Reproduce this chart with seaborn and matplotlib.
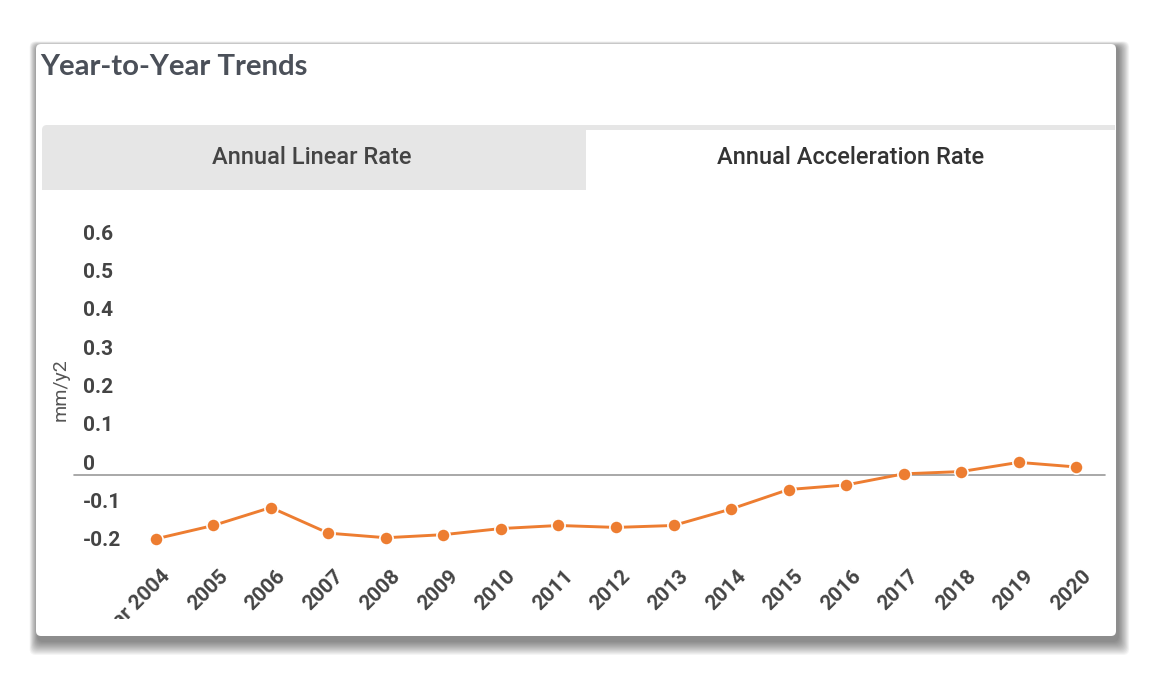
import numpy as np
import pandas as pd
import matplotlib
matplotlib.use('Agg')
import matplotlib.pyplot as plt
import matplotlib.transforms as mtransforms
from matplotlib.patches import FancyBboxPatch, Rectangle
import seaborn as sns

# data
years = [2004, 2005, 2006, 2007, 2008, 2009, 2010, 2011, 2012,
         2013, 2014, 2015, 2016, 2017, 2018, 2019, 2020]
year_labels = ['Year 2004'] + [str(y) for y in years[1:]]
accel_rate = [-0.167, -0.132, -0.085, -0.152, -0.164, -0.156, -0.140, -0.132, -0.137,
              -0.132, -0.089, -0.038, -0.026, 0.003, 0.009, 0.033, 0.021]
y_ticks = [-0.2, -0.1, 0, 0.1, 0.2, 0.3, 0.4, 0.5, 0.6]
y_tick_labels = ['-0.2', '-0.1', '0', '0.1', '0.2', '0.3', '0.4', '0.5', '0.6']
tab_names = ['Annual Linear Rate', 'Annual Acceleration Rate']
title = 'Year-to-Year Trends'
y_label = 'mm/y2'

df = pd.DataFrame({'year': years, 'rate': accel_rate})

sns.set_theme(style='white')
plt.rcParams['font.family'] = ['Roboto', 'DejaVu Sans']

W, H = 1152, 680
fig = plt.figure(figsize=(W / 100, H / 100), dpi=100)
fig.patch.set_facecolor('white')
inch = fig.dpi_scale_trans


def box(x0, y0, x1, y1, rounding=0.0, **kw):
    # pixel coords, origin top-left
    style = 'round,pad=0,rounding_size=%g' % rounding if rounding else 'square,pad=0'
    p = FancyBboxPatch((x0 / 100, (H - y1) / 100), (x1 - x0) / 100, (y1 - y0) / 100,
                       boxstyle=style, transform=inch, linewidth=0, **kw)
    fig.add_artist(p)
    return p


# card shadow
for i in range(14, 0, -1):
    box(36 - i * 0.6 + 2, 44 - i * 0.4 + 3, 1116 + i * 0.8 + 2, 636 + i * 1.0 + 5,
        rounding=0.06, facecolor='black', alpha=0.038, zorder=0)
# card
box(36, 44, 1116, 636, rounding=0.05, facecolor='white', zorder=1)

# tabs
box(42, 125, 586, 190, rounding=0.05, facecolor='#e6e6e6', zorder=2)
box(42, 150, 586, 190, facecolor='#e6e6e6', zorder=2)
box(560, 125, 1115, 129.5, facecolor='#e6e6e6', zorder=2)
fig.text(312 / W, 1 - 157 / H, tab_names[0], ha='center', va='center',
         fontsize=17, fontweight='medium', color='#444444', zorder=3)
fig.text(851 / W, 1 - 157 / H, tab_names[1], ha='center', va='center',
         fontsize=17, fontweight='medium', color='#333333', zorder=3)

fig.text(40 / W, 1 - 67 / H, title, ha='left', va='center', fontsize=21.2,
         fontweight='bold', family=['Lato', 'DejaVu Sans'], color='#4b5059', zorder=3)

# plot area
ax_l, ax_r, ax_t, ax_b = 127, 1105, 245.5, 551.5
ax = fig.add_axes([ax_l / W, 1 - ax_b / H, (ax_r - ax_l) / W, (ax_b - ax_t) / H])
ax.set_zorder(5)
ax.patch.set_alpha(0)

ax.axhline(0, xmin=(74 - ax_l) / (ax_r - ax_l), xmax=1, clip_on=False,
           color='#9a9a9a', lw=1.2, zorder=1)
sns.lineplot(data=df, x='year', y='rate', ax=ax, color='#ed7d31', lw=2.1,
             marker='o', markersize=9.5, markeredgecolor='white', markeredgewidth=1.2,
             zorder=3, clip_on=False)

ax.set_xlim(years[0] - 0.5, years[-1] + 0.5)
ax.set_ylim(-0.2, 0.6)
for s in ax.spines.values():
    s.set_visible(False)
ax.grid(False)

ax.set_yticks(y_ticks, y_tick_labels)
ax.tick_params(axis='y', length=0, pad=(ax_l - 83) * 0.72, labelsize=15,
               labelcolor='#444444')
for lab in ax.get_yticklabels():
    lab.set_ha('left')
    lab.set_fontweight('bold')
    lab.set_transform(lab.get_transform() + mtransforms.ScaledTranslation(0, 0.13, inch))

ax.set_xticks(years, year_labels)
ax.tick_params(axis='x', length=0, pad=15 * 0.72, labelsize=15, labelcolor='#444444')
clip = mtransforms.TransformedBbox(mtransforms.Bbox.from_extents(0, (H - 619) / 100, W / 100, H / 100), inch)
for lab in ax.get_xticklabels():
    lab.set_rotation(45)
    lab.set_ha('right')
    lab.set_va('top')
    lab.set_rotation_mode('anchor')
    lab.set_fontweight('bold')
    lab.set_transform(lab.get_transform() + mtransforms.ScaledTranslation(0.05, 0, inch))
    lab.set_clip_box(clip)
    lab.set_clip_on(True)

ax.set_xlabel('')
ax.set_ylabel(y_label, fontsize=14, color='#555555')
ax.yaxis.set_label_coords((70 - ax_l) / (ax_r - ax_l), (ax_b - 390) / (ax_b - ax_t))

fig.savefig('out.png', dpi=100, facecolor='white')
